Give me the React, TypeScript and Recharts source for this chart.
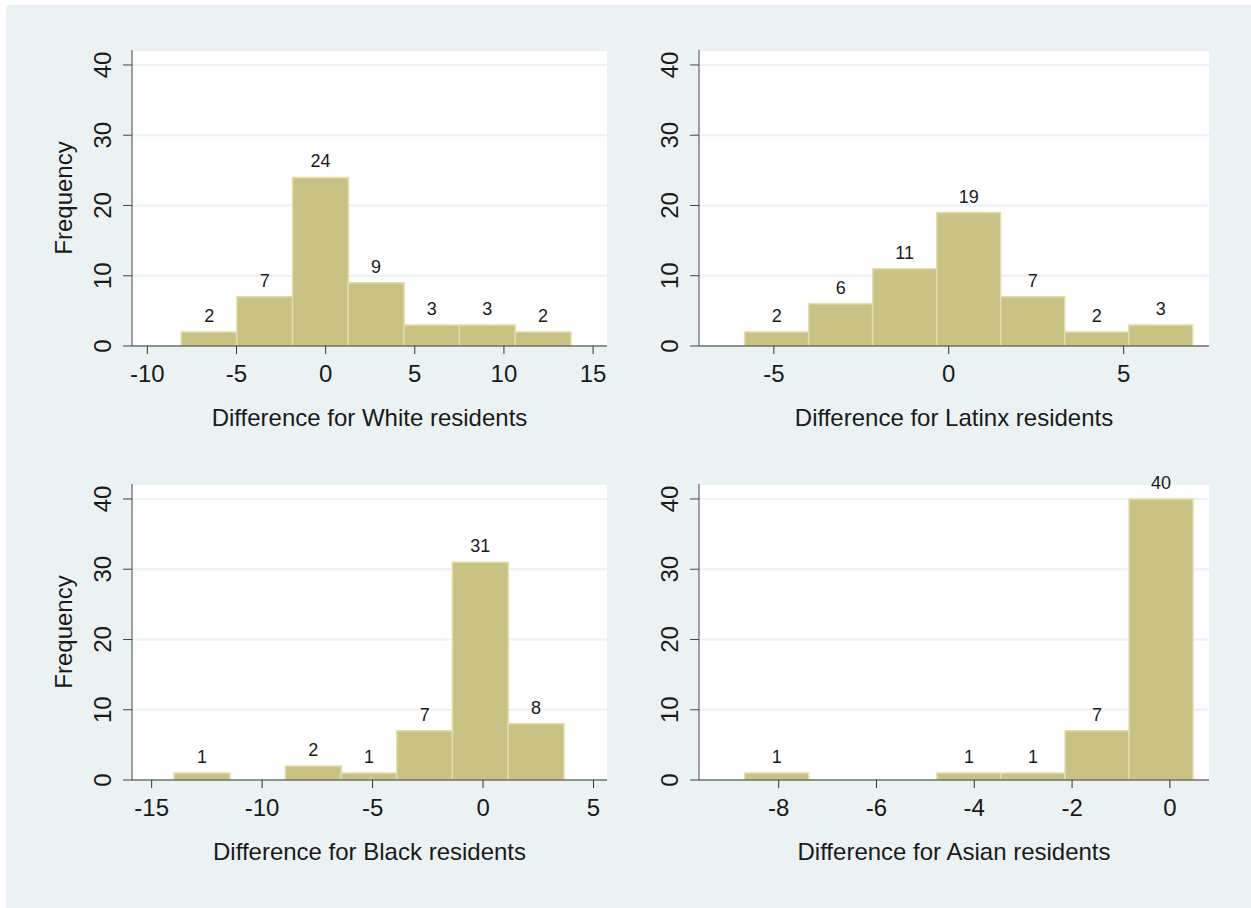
import React from 'react';
import { ComposedChart, Bar, XAxis, YAxis, CartesianGrid, LabelList, Label } from 'recharts';

// bin midpoints and frequencies
const whiteMid = [-6.54, -3.42, -0.3, 2.82, 5.94, 9.06, 12.18];
const whiteCount = [2, 7, 24, 9, 3, 3, 2];
const whiteTicks = [-10, -5, 0, 5, 10, 15];

const latinxMid = [-4.92, -3.09, -1.26, 0.57, 2.4, 4.23, 6.06];
const latinxCount = [2, 6, 11, 19, 7, 2, 3];
const latinxTicks = [-5, 0, 5];

const blackMid = [-12.73, -10.21, -7.69, -5.17, -2.65, -0.13, 2.39];
const blackCount = [1, 0, 2, 1, 7, 31, 8];
const blackTicks = [-15, -10, -5, 0, 5];

const asianMid = [-8.04, -6.73, -5.42, -4.11, -2.8, -1.49, -0.18];
const asianCount = [1, 0, 0, 1, 1, 7, 40];
const asianTicks = [-8, -6, -4, -2, 0];

const freqTicks = [0, 10, 20, 30, 40];

const FONT = '"Liberation Sans", Arial, sans-serif';
const BG = '#EAF2F3';
const BAR = '#C9C283';
const BAR_EDGE = '#E3DDAE';
const INK = '#1a1a1a';

const YTick = (props: any) => {
  const { x, y, payload } = props;
  return (
    <text x={x} y={y} transform={`rotate(-90 ${x} ${y})`} textAnchor="middle" fontSize={24} fill={INK} fontFamily={FONT}>
      {payload.value}
    </text>
  );
};

interface PanelProps {
  left: number;
  top: number;
  width: number;
  mids: number[];
  counts: number[];
  ticks: number[];
  domain: [number, number];
  title: string;
  showFreq: boolean;
}

const Panel: React.FC<PanelProps> = ({ left, top, width, mids, counts, ticks, domain, title, showFreq }) => {
  const data = mids.map((m, i) => ({ mid: m, count: counts[i] }));
  return (
    <div style={{ position: 'absolute', left, top }}>
      <ComposedChart width={width} height={440} data={data} margin={{ top: 50, right: 18, bottom: 0, left: 62 }} barCategoryGap={0} barGap={0}>
        <CartesianGrid vertical={false} stroke={BG} strokeWidth={2} fill="#ffffff" fillOpacity={1} />
        <XAxis
          dataKey="mid"
          type="number"
          domain={domain}
          ticks={ticks}
          allowDataOverflow
          height={94}
          tickSize={8}
          tickMargin={11}
          stroke="#333"
          tick={{ fontSize: 24, fill: INK, fontFamily: FONT }}
        >
          <Label
            content={(p: any) => {
              const vb = p.viewBox || {};
              return (
                <text x={vb.x + vb.width / 2} y={vb.y + 80} textAnchor="middle" fontSize={24} fill={INK} fontFamily={FONT}>
                  {title}
                </text>
              );
            }}
          />
        </XAxis>
        <YAxis
          type="number"
          domain={[0, 42.13]}
          ticks={freqTicks}
          allowDataOverflow
          width={70}
          tickSize={9}
          tickMargin={12}
          stroke="#444"
          tick={<YTick />}
        >
          {showFreq && (
            <Label
              content={(p: any) => {
                const vb = p.viewBox || {};
                const cx = vb.x + 10;
                const cy = vb.y + vb.height / 2;
                return (
                  <text x={cx} y={cy} transform={`rotate(-90 ${cx} ${cy})`} textAnchor="middle" fontSize={24} fill={INK} fontFamily={FONT}>
                    Frequency
                  </text>
                );
              }}
            />
          )}
        </YAxis>
        <Bar dataKey="count" fill={BAR} stroke={BAR_EDGE} strokeWidth={1.5} isAnimationActive={false}>
          <LabelList
            dataKey="count"
            position="top"
            offset={10}
            fontSize={18}
            fill={INK}
            fontFamily={FONT}
            formatter={(v: any) => (v === 0 ? '' : v)}
          />
        </Bar>
      </ComposedChart>
    </div>
  );
};

export default function App() {
  return (
    <div style={{ position: 'absolute', left: 0, top: 0, width: 1251, height: 908, background: '#fff' }}>
      <div style={{ position: 'absolute', left: 6, top: 5, width: 1245, height: 903, background: BG }} />
      <Panel left={0} top={0} width={625} mids={whiteMid} counts={whiteCount} ticks={whiteTicks} domain={[-10.86, 15.78]} title="Difference for White residents" showFreq />
      <Panel left={567} top={0} width={660} mids={latinxMid} counts={latinxCount} ticks={latinxTicks} domain={[-7.14, 7.44]} title="Difference for Latinx residents" showFreq={false} />
      <Panel left={0} top={434} width={625} mids={blackMid} counts={blackCount} ticks={blackTicks} domain={[-15.89, 5.61]} title="Difference for Black residents" showFreq />
      <Panel left={567} top={434} width={660} mids={asianMid} counts={asianCount} ticks={asianTicks} domain={[-9.63, 0.8]} title="Difference for Asian residents" showFreq={false} />
    </div>
  );
}
